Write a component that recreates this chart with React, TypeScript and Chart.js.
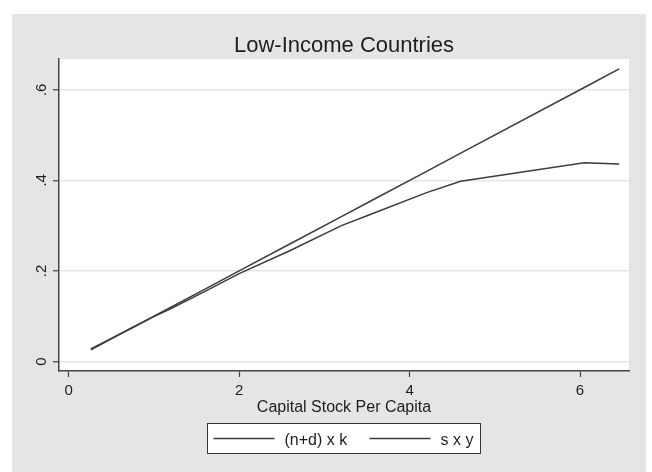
import React, { useEffect, useRef } from "react";
import { Chart, registerables } from "chart.js";

Chart.register(...registerables);

const chartTitle = "Low-Income Countries";
const xAxisTitle = "Capital Stock Per Capita";
const seriesNames = ["(n+d) x k", "s x y"];

// capital stock per capita (k)
const capital = [0.26, 0.5, 0.75, 1.0, 1.2, 1.6, 2.0, 2.6, 3.2, 3.5, 4.2, 4.6, 6.05, 6.46];
// break-even investment (n+d) x k
const breakEven = [0.026, 0.05, 0.075, 0.1, 0.12, 0.16, 0.2, 0.26, 0.32, 0.35, 0.42, 0.46, 0.605, 0.646];
// actual investment s x y
const investment = [0.028, 0.051, 0.075, 0.099, 0.117, 0.155, 0.194, 0.245, 0.3, 0.322, 0.373, 0.398, 0.439, 0.436];

const xTicks = [0, 2, 4, 6];
const yTicks = [0, 0.2, 0.4, 0.6];
const yTickLabels = ["0", ".2", ".4", ".6"];

const FONT = "'Liberation Sans', Arial, Helvetica, sans-serif";
const INK = "#1e1e1e";
const LINE = "#3c3c3c";

const stataFrame = {
  id: "stataFrame",
  beforeDraw(chart: any) {
    const { ctx, chartArea: a } = chart;
    ctx.save();
    ctx.fillStyle = "#e5e5e5";
    ctx.fillRect(12, 14, 634, 458);
    ctx.fillStyle = "#ffffff";
    ctx.fillRect(a.left, a.top, a.right - a.left, a.bottom - a.top);
    ctx.restore();
  },
  afterDraw(chart: any) {
    const { ctx, chartArea: a } = chart;
    const cx = (a.left + a.right) / 2;
    const yScale = chart.scales.y;
    ctx.save();
    ctx.fillStyle = INK;

    // title
    ctx.font = `22px ${FONT}`;
    ctx.textAlign = "center";
    ctx.textBaseline = "alphabetic";
    ctx.fillText(chartTitle, cx, 52);

    // rotated y tick labels
    ctx.font = `15px ${FONT}`;
    yTicks.forEach((v, i) => {
      const py = yScale.getPixelForValue(v);
      ctx.save();
      ctx.translate(45.5, py);
      ctx.rotate(-Math.PI / 2);
      ctx.textAlign = "center";
      ctx.textBaseline = "alphabetic";
      ctx.fillText(yTickLabels[i], 0, 0);
      ctx.restore();
    });

    // x axis title
    ctx.font = `16px ${FONT}`;
    ctx.textAlign = "center";
    ctx.fillText(xAxisTitle, cx, 412);

    // legend
    const w = 273;
    const h = 30;
    const left = cx - w / 2;
    const top = 423.5;
    ctx.fillStyle = "#ffffff";
    ctx.fillRect(left, top, w, h);
    ctx.strokeStyle = "#333333";
    ctx.lineWidth = 1;
    ctx.strokeRect(left, top, w, h);
    const midY = top + 15;
    const items = [
      { x0: left + 6, x1: left + 67, tx: left + 77 },
      { x0: left + 162, x1: left + 223, tx: left + 233 },
    ];
    items.forEach((it, i) => {
      ctx.strokeStyle = LINE;
      ctx.lineWidth = 1.5;
      ctx.beginPath();
      ctx.moveTo(it.x0, midY);
      ctx.lineTo(it.x1, midY);
      ctx.stroke();
      ctx.fillStyle = INK;
      ctx.font = `16px ${FONT}`;
      ctx.textAlign = "left";
      ctx.textBaseline = "alphabetic";
      ctx.fillText(seriesNames[i], it.tx, midY + 6);
    });
    ctx.restore();
  },
};

export default function App() {
  const ref = useRef<HTMLCanvasElement | null>(null);

  useEffect(() => {
    document.body.style.margin = "0";
    const canvas = ref.current;
    if (!canvas) return;
    const chart = new Chart(canvas, {
      type: "line",
      data: {
        datasets: [
          {
            label: seriesNames[0],
            data: capital.map((k, i) => ({ x: k, y: breakEven[i] })),
            borderColor: LINE,
            borderWidth: 1.5,
            pointRadius: 0,
            tension: 0,
            fill: false,
          },
          {
            label: seriesNames[1],
            data: capital.map((k, i) => ({ x: k, y: investment[i] })),
            borderColor: LINE,
            borderWidth: 1.5,
            pointRadius: 0,
            tension: 0,
            fill: false,
          },
        ],
      },
      options: {
        responsive: false,
        animation: false,
        devicePixelRatio: 1,
        layout: { padding: { left: 0, top: 59, right: 23, bottom: 71 } },
        plugins: {
          legend: { display: false },
          title: { display: false },
          tooltip: { enabled: false },
        },
        scales: {
          x: {
            type: "linear",
            min: -0.114,
            max: 6.575,
            afterBuildTicks: (s: any) => {
              s.ticks = xTicks.map((v) => ({ value: v }));
            },
            afterFit: (s: any) => {
              s.height = 30;
            },
            ticks: {
              color: INK,
              font: { family: FONT, size: 15 },
              padding: 5,
              maxRotation: 0,
              callback: (v: any) => String(v),
            },
            grid: {
              drawOnChartArea: false,
              drawTicks: true,
              tickLength: 6,
              tickColor: "#444444",
              tickWidth: 1.2,
            },
            border: { display: true, color: "#444444", width: 1.5 },
          },
          y: {
            type: "linear",
            min: -0.021,
            max: 0.668,
            afterBuildTicks: (s: any) => {
              s.ticks = yTicks.map((v) => ({ value: v }));
            },
            afterFit: (s: any) => {
              s.width = 59;
            },
            ticks: { display: false },
            grid: {
              color: "#e6e6e6",
              lineWidth: 1.5,
              drawTicks: true,
              tickLength: 6,
              tickColor: "#444444",
              tickWidth: 1.2,
            },
            border: { display: true, color: "#444444", width: 1.5 },
          },
        },
      },
      plugins: [stataFrame],
    });
    return () => chart.destroy();
  }, []);

  return <canvas ref={ref} width={652} height={472} style={{ display: "block" }} />;
}
